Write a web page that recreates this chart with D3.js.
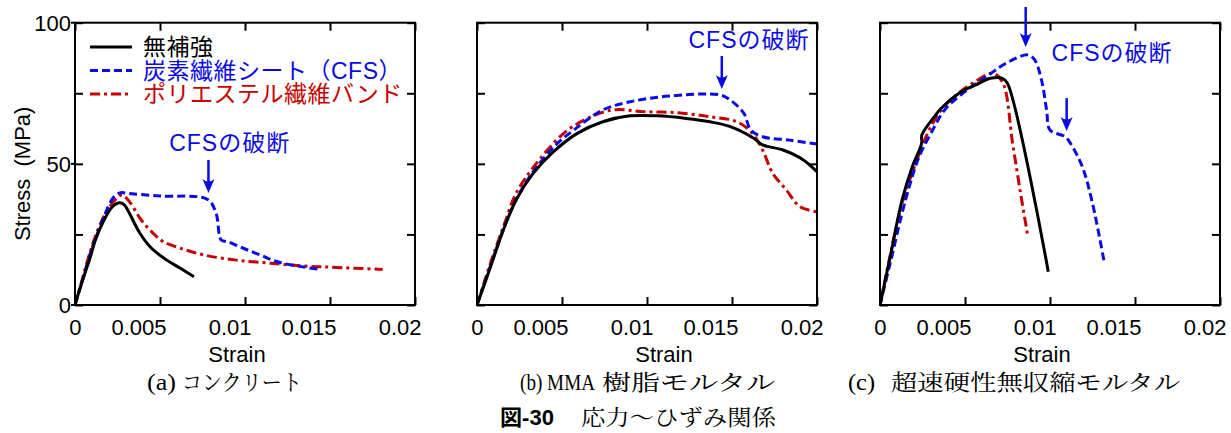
<!DOCTYPE html>
<html>
<head>
<meta charset="utf-8">
<script src="https://cdn.jsdelivr.net/npm/d3@7"></script>
<style>
  body { margin: 0; background: #fff; }
  svg { display: block; }
</style>
</head>
<body>
<svg id="chart" width="1231" height="433"></svg>
<script>
// ---- axis definitions ----
const xTickValues = [0, 0.005, 0.01, 0.015, 0.02];
const xTickLabels = ["0", "0.005", "0.01", "0.015", "0.02"];
const yTickValues = [0, 25, 50, 75, 100];
const yLabelValues = [0, 50, 100];
const yLabelTexts = ["0", "50", "100"];
const xTitle = "Strain";
const yTitle = "Stress  (MPa)";

// ---- series names (legend) ----
const seriesNames = ["無補強", "炭素繊維シート（CFS）", "ポリエステル繊維バンド"];
const captionPrefixes = ["(a)", "(b) MMA", "(c)"];
const captionBodies = ["コンクリート", "樹脂モルタル", "超速硬性無収縮モルタル"];
const figureNumber = "図-30";
const figureTitle = "応力～ひずみ関係";
const ruptureLabel = "CFSの破断";

// ---- (a) concrete: [strain, stress MPa] ----
const concretePlain = [[0,0],[0.0003,6],[0.0006,11.5],[0.0009,17],[0.0012,23],[0.0017,30],[0.0022,34.8],[0.0026,36.2],[0.0029,35.5],[0.0032,32.5],[0.0038,25.6],[0.0045,20.1],[0.0054,15.9],[0.0062,13],[0.0070,10]];
const concreteCFS = [[0,0],[0.0004,8],[0.0009,18.3],[0.0013,25],[0.0017,31.3],[0.0023,38.4],[0.0027,39.8],[0.003,39.6],[0.005,38.6],[0.0078,37.4],[0.0083,32.5],[0.0086,23],[0.009,22.4],[0.0099,20.1],[0.0109,17.7],[0.0119,15.3],[0.0133,13.6],[0.0144,12.6]];
const concreteBand = [[0,0],[0.0004,8.5],[0.0009,19],[0.0014,27.5],[0.0019,33.5],[0.0024,37.5],[0.00275,39],[0.003,38],[0.0033,35.8],[0.0039,30.1],[0.0046,25.4],[0.0052,22.4],[0.0062,20.1],[0.0076,17.7],[0.0095,15.9],[0.0115,14.8],[0.0135,13.8],[0.0154,13.3],[0.0181,12.6]];

// ---- (b) MMA resin mortar ----
const mmaPlain = [[0,0],[0.0008,13.6],[0.00155,26.6],[0.0023,37.2],[0.0033,46.6],[0.0045,54.3],[0.0059,60.8],[0.0074,64.9],[0.009,67],[0.0106,67],[0.0123,66.1],[0.0137,64.9],[0.0149,63.2],[0.0163,59],[0.0168,56.7],[0.018,54.9],[0.0192,51.4],[0.0200,47.2]];
const mmaCFS = [[0,0],[0.0008,14],[0.0016,27.5],[0.0024,38.5],[0.0034,48],[0.0046,56.5],[0.0057,62],[0.0074,69.1],[0.009,72],[0.0113,74],[0.0143,74.4],[0.0149,72.6],[0.0157,67.9],[0.0161,62],[0.0168,59.6],[0.0184,58.4],[0.02,57]];
const mmaBand = [[0,0],[0.0008,15],[0.0016,28.5],[0.0023,39.6],[0.0035,50.2],[0.0051,60.8],[0.0065,66.1],[0.008,69.1],[0.0098,68.5],[0.0118,68.1],[0.0137,66.7],[0.0153,64.9],[0.0162,60.8],[0.0168,54.9],[0.0174,46.6],[0.0182,40.7],[0.019,34.8],[0.02,33]];

// ---- (c) rapid-hardening non-shrink mortar ----
const rapidPlain = [[0,0],[0.0006,17.1],[0.0013,37.2],[0.0019,49],[0.00245,57.3],[0.00246,60.2],[0.0032,66.7],[0.0036,69.7],[0.0048,75.6],[0.0056,77.9],[0.0065,80.3],[0.0072,80.3],[0.0075,78.5],[0.0099,11.8]];
const rapidCFS = [[0,0],[0.0006,14.8],[0.0015,37.2],[0.0023,52.5],[0.003,60.8],[0.0038,69.1],[0.005,75.6],[0.0064,81.5],[0.0074,85.6],[0.0087,88.6],[0.0091,86.8],[0.0095,79.7],[0.0098,69.1],[0.01,62],[0.0109,59.6],[0.0112,57.3],[0.0119,49],[0.0125,36],[0.0132,14.8]];
const rapidBand = [[0,0],[0.0005,14.8],[0.0013,36],[0.0021,50.2],[0.0028,60.8],[0.0036,69.1],[0.0046,75],[0.0056,79.1],[0.0066,82.1],[0.0072,79.1],[0.0078,57.3],[0.0083,38.4],[0.0087,24.2]];

// ---- rupture arrows: tip [strain, stress], and label anchor [strain, stress] ----
const arrowsA = [[0.00785, 39.7]];
const arrowsB = [[0.0144, 76.5]];
const arrowsC = [[0.00857, 91.4], [0.01098, 61.6]];
const labelA = [0.0091, 57.4];
const labelB = [0.0160, 93.9];
const labelC = [0.01365, 89.3];

// ---- styles ----
const BLUE = "#0a0ae6";
const RED = "#c80000";
const styles = [
  { color: "#000", dash: null },
  { color: BLUE, dash: "8,4" },
  { color: RED, dash: "10,4,3,4" }
];

const panels = [
  { left: 75,  series: [concretePlain, concreteCFS, concreteBand], arrows: arrowsA, label: labelA, yLabels: true, legend: true, xTitleX: 237, arrowLen: [33],
    cap: { px: 147, pw: 29, bx: 182, bw: 120 } },
  { left: 477, series: [mmaPlain, mmaCFS, mmaBand], arrows: arrowsB, label: labelB, yLabels: false, legend: false, xTitleX: 664, arrowLen: [33],
    cap: { px: 520, pw: 75, bx: 602, bw: 173 } },
  { left: 880, series: [rapidPlain, rapidCFS, rapidBand], arrows: arrowsC, label: labelC, yLabels: false, legend: false, xTitleX: 1042, arrowLen: [40, 33],
    cap: { px: 848, pw: 27, bx: 891, bw: 289 } }
];
const plotW = 340, plotTop = 22.7, plotBottom = 305;

const svg = d3.select("#chart");
const SANS = "'Liberation Sans', Arial, 'Noto Sans CJK JP', sans-serif";
const SERIF = "'Liberation Serif', 'Noto Serif CJK JP', 'Noto Sans CJK JP', serif";

// fixed-width caption text
function fitText(x, y, w, str, family, size, weight) {
  return svg.append("text").attr("x", x).attr("y", y)
    .attr("textLength", w).attr("lengthAdjust", "spacingAndGlyphs")
    .style("font-family", family).style("font-size", size + "px")
    .style("font-weight", weight || "normal").text(str);
}

panels.forEach((p, i) => {
  const x = d3.scaleLinear().domain([0, 0.02]).range([p.left, p.left + plotW]);
  const y = d3.scaleLinear().domain([0, 100]).range([plotBottom, plotTop]);
  const g = svg.append("g");

  const clipId = "clip" + i;
  svg.append("defs").append("clipPath").attr("id", clipId)
    .append("rect").attr("x", p.left).attr("y", plotTop).attr("width", plotW).attr("height", plotBottom - plotTop);

  // curves
  const line = d3.line().x(d => x(d[0])).y(d => y(d[1])).curve(d3.curveCatmullRom.alpha(0.5));
  [2, 1, 0].forEach(k => {
    g.append("path")
      .attr("clip-path", `url(#${clipId})`)
      .attr("d", line(p.series[k]))
      .attr("fill", "none")
      .attr("stroke", styles[k].color)
      .attr("stroke-width", 3)
      .attr("stroke-linejoin", "round")
      .attr("stroke-dasharray", styles[k].dash);
  });

  // axes with inward ticks
  const bottom = g.append("g").attr("transform", `translate(0,${plotBottom})`)
    .call(d3.axisBottom(x).tickValues(xTickValues).tickSize(-8).tickPadding(14)
      .tickFormat((d, j) => xTickLabels[j]));
  bottom.selectAll("text").attr("text-anchor", "end").attr("x", 6)
    .style("font-family", SANS).style("font-size", "22px").attr("fill", "#000");
  g.append("g").attr("transform", `translate(0,${plotTop})`)
    .call(d3.axisTop(x).tickValues(xTickValues).tickSize(-8).tickFormat(""));
  g.append("g").attr("transform", `translate(${p.left},0)`)
    .call(d3.axisLeft(y).tickValues(yTickValues).tickSize(-8).tickFormat(""));
  g.append("g").attr("transform", `translate(${p.left + plotW},0)`)
    .call(d3.axisRight(y).tickValues(yTickValues).tickSize(-8).tickFormat(""));
  g.selectAll(".domain").remove();
  g.selectAll(".tick line").attr("stroke", "#000").attr("stroke-width", 2);

  g.append("rect").attr("x", p.left).attr("y", plotTop).attr("width", plotW).attr("height", plotBottom - plotTop)
    .attr("fill", "none").attr("stroke", "#000").attr("stroke-width", 2);

  if (p.yLabels) {
    yLabelValues.forEach((v, j) => {
      g.append("line").attr("x1", p.left - 4).attr("x2", p.left).attr("y1", y(v)).attr("y2", y(v))
        .attr("stroke", "#000").attr("stroke-width", 2);
      g.append("text").attr("x", p.left - 4).attr("y", y(v)).attr("dy", "0.36em")
        .attr("text-anchor", "end").style("font-family", SANS).style("font-size", "22px").text(yLabelTexts[j]);
    });
    g.append("text").attr("transform", `translate(22,${(plotTop + plotBottom) / 2 + 10}) rotate(-90)`)
      .attr("text-anchor", "middle").attr("dy", "0.35em")
      .style("font-family", SANS).style("font-size", "22px").style("white-space", "pre").text(yTitle);
  }

  g.append("text").attr("x", p.xTitleX).attr("y", 362).attr("text-anchor", "middle")
    .style("font-family", SANS).style("font-size", "22px").text(xTitle);

  // rupture arrows
  p.arrows.forEach((a, j) => {
    const ax = x(a[0]), ay = y(a[1]);
    const len = p.arrowLen[j];
    g.append("line").attr("x1", ax).attr("x2", ax).attr("y1", ay - len).attr("y2", ay - 8)
      .attr("stroke", BLUE).attr("stroke-width", 2.5);
    g.append("path")
      .attr("d", `M${ax},${ay} L${ax - 6},${ay - 14} Q${ax},${ay - 9} ${ax + 6},${ay - 14} Z`)
      .attr("fill", BLUE);
  });
  g.append("text").attr("x", x(p.label[0])).attr("y", y(p.label[1])).attr("dy", "0.36em")
    .attr("text-anchor", "middle").attr("fill", BLUE)
    .style("font-family", SANS).style("font-size", "23px").style("letter-spacing", "1px").text(ruptureLabel);

  // legend
  if (p.legend) {
    seriesNames.forEach((name, k) => {
      const ly = 47 + k * 23.5;
      g.append("line").attr("x1", p.left + 15).attr("x2", p.left + 57).attr("y1", ly).attr("y2", ly)
        .attr("stroke", styles[k].color).attr("stroke-width", 3).attr("stroke-dasharray", styles[k].dash);
      g.append("text").attr("x", p.left + 68).attr("y", ly).attr("dy", "0.36em")
        .attr("fill", styles[k].color)
        .style("font-family", SANS).style("font-size", "23px").style("letter-spacing", "0.5px").text(name);
    });
  }

  // panel caption: latin prefix + japanese body
  fitText(p.cap.px, 390, p.cap.pw, captionPrefixes[i], SERIF, 23);
  fitText(p.cap.bx, 390, p.cap.bw, captionBodies[i], SERIF, 22);
});

// figure title
fitText(500, 425, 54, figureNumber, SANS, 22, "bold");
fitText(581, 425, 195, figureTitle, SERIF, 22);
</script>
</body>
</html>
